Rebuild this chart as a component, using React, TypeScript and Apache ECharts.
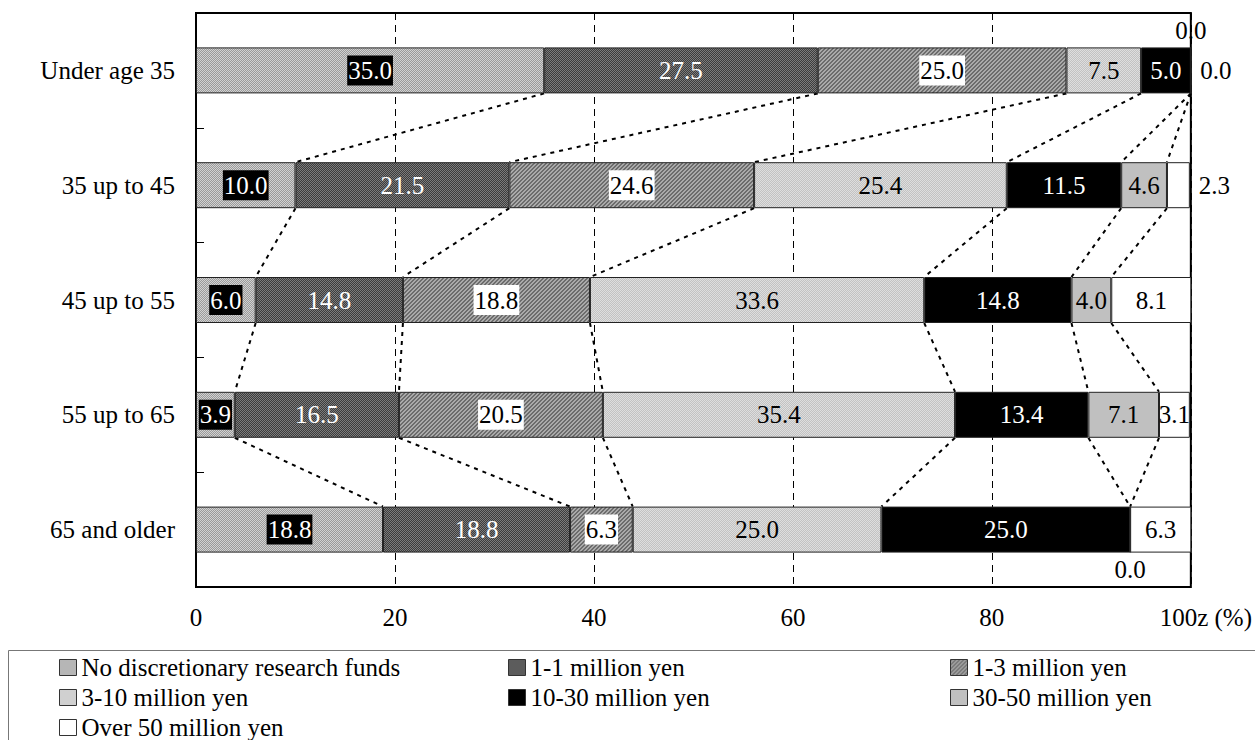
import React, { useEffect, useRef } from "react";
import * as echarts from "echarts";

// Age groups (top to bottom) and discretionary research fund bands
const ageGroups = ["Under age 35", "35 up to 45", "45 up to 55", "55 up to 65", "65 and older"];
const fundBands = [
  "No discretionary research funds",
  "1-1 million yen",
  "1-3 million yen",
  "3-10 million yen",
  "10-30 million yen",
  "30-50 million yen",
  "Over 50 million yen",
];

// Shares (%) per age group for each fund band
const noFunds = [35.0, 10.0, 6.0, 3.9, 18.8];
const upTo1M = [27.5, 21.5, 14.8, 16.5, 18.8];
const from1To3M = [25.0, 24.6, 18.8, 20.5, 6.3];
const from3To10M = [7.5, 25.4, 33.6, 35.4, 25.0];
const from10To30M = [5.0, 11.5, 14.8, 13.4, 25.0];
const from30To50M = [0.0, 4.6, 4.0, 7.1, 0.0];
const over50M = [0.0, 2.3, 8.1, 3.1, 6.3];

const xTicks = [0, 20, 40, 60, 80, 100];

const FONT = "'Times New Roman', 'Liberation Serif', serif";
const FS = 25;
const BAR_W = 46;

// Small pixel tiles used as halftone fills
function tile(size: number, paint: (x: number, y: number) => string) {
  const c = document.createElement("canvas");
  c.width = size;
  c.height = size;
  const ctx = c.getContext("2d")!;
  for (let y = 0; y < size; y++) {
    for (let x = 0; x < size; x++) {
      ctx.fillStyle = paint(x, y);
      ctx.fillRect(x, y, 1, 1);
    }
  }
  return { image: c.toDataURL(), repeat: "repeat", imageWidth: size, imageHeight: size } as any;
}

function buildFills() {
  return [
    tile(2, (x, y) => ((x + y) % 2 === 0 ? "#d2d2d2" : "#9a9a9a")),
    tile(2, (x, y) => ((x + y) % 2 === 0 ? "#7c7c7c" : "#3c3c3c")),
    tile(4, (x, y) => ((x + y) % 4 < 2 ? "#6c6c6c" : "#aaaaaa")),
    tile(2, (x, y) => ((x + y) % 2 === 0 ? "#dedede" : "#c2c2c2")),
    "#000000",
    "#c0c0c0",
    "#ffffff",
  ];
}

// Label look per band
const labelLooks: any[] = [
  { color: "#fff", backgroundColor: "#000", padding: [3, 1, 2, 1] },
  { color: "#fff" },
  { color: "#000", backgroundColor: "#fff", padding: [3, 1, 2, 1] },
  { color: "#000" },
  { color: "#fff" },
  { color: "#000" },
  { color: "#000" },
];

// Labels that sit outside their bar: "band-row" -> position
const outsideLabels: Record<string, { position: string; distance: number }> = {
  "5-0": { position: "top", distance: 4 },
  "5-4": { position: "bottom", distance: 4 },
  "6-0": { position: "right", distance: 9 },
  "6-1": { position: "right", distance: 9 },
};

export default function App() {
  const ref = useRef<HTMLDivElement>(null);

  useEffect(() => {
    if (!ref.current) return;
    const chart = echarts.init(ref.current, undefined, { renderer: "svg" });
    const fills = buildFills();
    const bandValues = [noFunds, upTo1M, from1To3M, from3To10M, from10To30M, from30To50M, over50M];

    const barSeries = bandValues.map((vals, k) => ({
      name: fundBands[k],
      type: "bar",
      stack: "share",
      barWidth: BAR_W,
      z: 3,
      itemStyle: { color: fills[k], borderColor: "#222", borderWidth: 1 },
      label: {
        show: true,
        position: "inside",
        fontSize: FS,
        fontFamily: FONT,
        lineHeight: FS,
        formatter: (p: any) => Number(p.value).toFixed(1),
        ...labelLooks[k],
      },
      data: vals.map((v, r) => {
        const o = outsideLabels[`${k}-${r}`];
        return o ? { value: v, label: { position: o.position, distance: o.distance } } : v;
      }),
    }));

    // Boundaries between bands, accumulated per age group
    const cumulative = ageGroups.map((_, r) => {
      let s = 0;
      return bandValues.slice(0, 6).map((vals) => Math.min(100, (s += vals[r])));
    });
    const connectors: number[][] = [];
    for (let r = 0; r < ageGroups.length - 1; r++) {
      for (let k = 0; k < 6; k++) connectors.push([cumulative[r][k], cumulative[r + 1][k], r]);
    }

    const labelFont = { fontSize: FS, fontFamily: FONT, color: "#000" };

    chart.setOption({
      animation: false,
      backgroundColor: "#fff",
      grid: {
        left: 196,
        right: 64,
        top: 13,
        bottom: 153,
        show: true,
        borderColor: "#000",
        borderWidth: 2,
        backgroundColor: "transparent",
      },
      xAxis: {
        type: "value",
        min: xTicks[0],
        max: xTicks[xTicks.length - 1],
        interval: xTicks[1] - xTicks[0],
        axisLine: { show: false },
        axisTick: { show: false },
        splitLine: { show: true, lineStyle: { color: "#000", width: 1, type: [7, 5] } },
        axisLabel: {
          margin: 18,
          ...labelFont,
          formatter: (v: number) => (v === 100 ? "{end|100z (%)}" : `{n|${v}}`),
          rich: {
            n: { ...labelFont },
            end: { ...labelFont, padding: [0, 0, 0, 30] },
          },
        },
      },
      yAxis: {
        type: "category",
        inverse: true,
        data: ageGroups,
        axisLine: { show: false },
        axisTick: { show: true, inside: true, length: 8, lineStyle: { color: "#000", width: 1 } },
        axisLabel: { margin: 21, ...labelFont },
      },
      legend: [
        [0, 3, 6],
        [1, 4],
        [2, 5],
      ].map((idx, c) => ({
        orient: "vertical",
        left: [59, 508, 950][c],
        top: 655,
        padding: 0,
        itemGap: 5,
        itemWidth: 17,
        itemHeight: 16,
        icon: "rect",
        selectedMode: false,
        itemStyle: { borderColor: "#333", borderWidth: 1 },
        textStyle: { ...labelFont, lineHeight: FS },
        data: idx.map((i) => fundBands[i]),
      })),
      graphic: [
        {
          type: "rect",
          shape: { x: 8.5, y: 650.5, width: 1300, height: 120 },
          style: { fill: "none", stroke: "#777", lineWidth: 1 },
          silent: true,
        },
      ],
      series: [
        ...barSeries,
        {
          type: "custom",
          name: "connectors",
          z: 2,
          silent: true,
          encode: { x: [0, 1], y: 2 },
          data: connectors,
          renderItem: (_params: any, api: any) => {
            const r = api.value(2);
            const top = api.coord([api.value(0), r]);
            const bot = api.coord([api.value(1), r + 1]);
            return {
              type: "line",
              shape: { x1: top[0], y1: top[1] + BAR_W / 2, x2: bot[0], y2: bot[1] - BAR_W / 2 },
              style: { stroke: "#000", lineWidth: 2, lineDash: [4, 5] },
            };
          },
        },
      ],
    } as any);

    return () => chart.dispose();
  }, []);

  return (
    <div
      ref={ref}
      style={{ position: "absolute", left: 0, top: 0, width: 1255, height: 740 }}
    />
  );
}
